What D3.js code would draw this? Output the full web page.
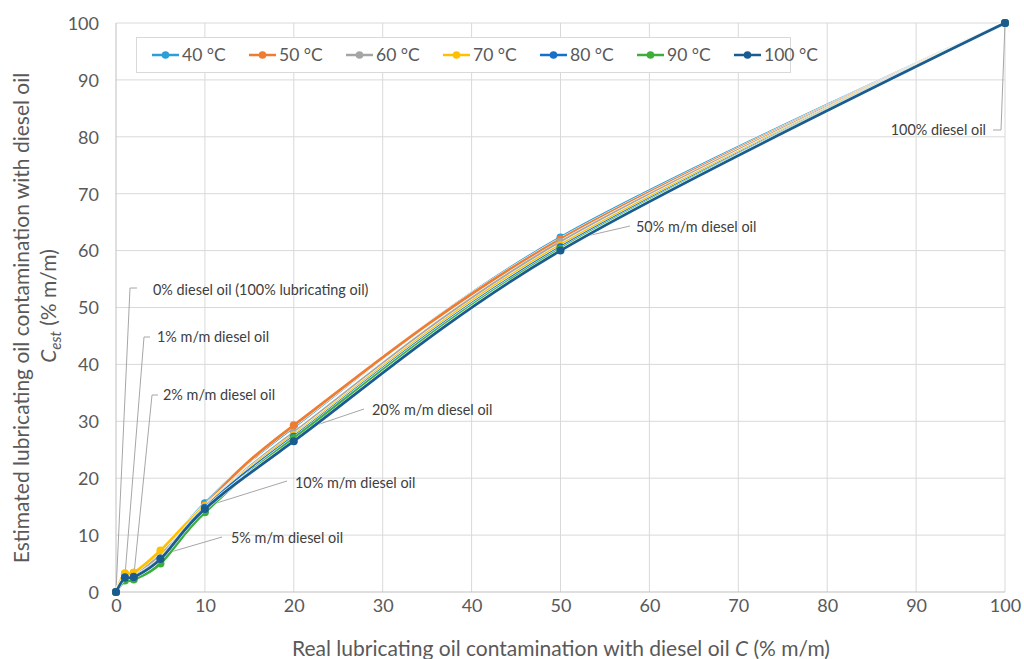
<!DOCTYPE html>
<html><head><meta charset="utf-8">
<script src="https://cdn.jsdelivr.net/npm/d3@7"></script>
<style>
body{margin:0;background:#fff;}
svg{display:block;font-family:Lato,"Open Sans",sans-serif;}
</style></head><body>
<svg id="c" width="1024" height="659"></svg>
<script>
const xValues = [0, 1, 2, 5, 10, 20, 50, 100];
const seriesNames = ["40 °C", "50 °C", "60 °C", "70 °C", "80 °C", "90 °C", "100 °C"];
const t40  = [0, 2.6, 2.9, 6.4, 15.6, 29.0, 62.3, 100];
const t50  = [0, 3.2, 3.4, 6.9, 15.3, 29.3, 62.0, 100];
const t60  = [0, 2.9, 3.1, 6.5, 15.0, 28.0, 61.5, 100];
const t70  = [0, 3.3, 3.4, 7.3, 15.1, 27.6, 61.0, 100];
const t80  = [0, 2.6, 2.7, 5.9, 14.8, 27.3, 60.6, 100];
const t90  = [0, 2.0, 2.2, 5.0, 14.0, 27.0, 60.3, 100];
const t100 = [0, 2.5, 2.6, 5.8, 14.6, 26.5, 60.0, 100];
const seriesValues = [t40, t50, t60, t70, t80, t90, t100];
const colors = ["#2a9fd8", "#ee7d31", "#a5a5a5", "#ffc000", "#1470c8", "#3cae3c", "#1b5c90"];
const xTicks = [0,10,20,30,40,50,60,70,80,90,100];
const yTicks = [0,10,20,30,40,50,60,70,80,90,100];
const annotations = [
  {x:0,   label:"0% diesel oil (100% lubricating oil)"},
  {x:1,   label:"1% m/m diesel oil"},
  {x:2,   label:"2% m/m diesel oil"},
  {x:5,   label:"5% m/m diesel oil"},
  {x:10,  label:"10% m/m diesel oil"},
  {x:20,  label:"20% m/m diesel oil"},
  {x:50,  label:"50% m/m diesel oil"},
  {x:100, label:"100% diesel oil"}
];

const svg = d3.select("#c");
const x = d3.scaleLinear().domain([0,100]).range([116,1005]);
const y = d3.scaleLinear().domain([0,100]).range([592,23]);
const textCol = "#595959";

// grid
const g = svg.append("g");
g.selectAll(".vg").data(xTicks.slice(1)).enter().append("line")
  .attr("x1",d=>x(d)).attr("x2",d=>x(d)).attr("y1",y(0)).attr("y2",y(100))
  .attr("stroke","#d9d9d9").attr("stroke-width",1);
g.selectAll(".hg").data(yTicks.slice(1)).enter().append("line")
  .attr("x1",x(0)).attr("x2",x(100)).attr("y1",d=>y(d)).attr("y2",d=>y(d))
  .attr("stroke","#d9d9d9").attr("stroke-width",1);
svg.append("line").attr("x1",x(0)).attr("x2",x(100)).attr("y1",y(0)).attr("y2",y(0)).attr("stroke","#bfbfbf");
svg.append("line").attr("x1",x(0)).attr("x2",x(0)).attr("y1",y(0)).attr("y2",y(100)).attr("stroke","#bfbfbf");

// axes via d3
const xAxis = d3.axisBottom(x).tickValues(xTicks).tickSize(0).tickPadding(5);
const yAxis = d3.axisLeft(y).tickValues(yTicks).tickSize(0).tickPadding(17);
const gx = svg.append("g").attr("transform",`translate(0,${y(0)})`).call(xAxis);
const gy = svg.append("g").attr("transform",`translate(${x(0)},0)`).call(yAxis);
[gx,gy].forEach(a=>{a.select(".domain").remove();
  a.selectAll("text").attr("fill",textCol).style("font-size","18px").style("font-family","Lato,'Open Sans',sans-serif");});
gx.selectAll("text").attr("dy","0.85em");
gy.selectAll("text").attr("dy","0.35em");

// axis titles
const xt = svg.append("text").attr("x",561).attr("y",656).attr("text-anchor","middle")
  .attr("fill",textCol).style("font-size","21px");
xt.append("tspan").text("Real lubricating oil contamination with diesel oil ");
xt.append("tspan").attr("font-style","italic").style("font-style","italic").text("C");
xt.append("tspan").text(" (% m/m)");
svg.append("text").attr("transform","rotate(-90)").attr("text-anchor","middle").attr("fill",textCol).style("font-size","21px")
  .attr("x",-318).attr("y",29).text("Estimated lubricating oil contamination with diesel oil");
const l2 = svg.append("text").attr("transform","rotate(-90)").attr("text-anchor","middle").attr("fill",textCol).style("font-size","21px")
  .attr("x",-306).attr("y",56);
l2.append("tspan").style("font-style","italic").text("C");
l2.append("tspan").style("font-style","italic").attr("font-size","15px").attr("dy","5").text("est");
l2.append("tspan").attr("dy","-5").text(" (% m/m)");

// annotations (leader lines + labels)
const annoPos = [
  {pts:[[x(0),y(0)],[130,288],[137,288]], tx:153, ty:290, anchor:"start"},
  {pts:[[x(1),y(2.6)],[144,337],[150,337]], tx:157, ty:337, anchor:"start"},
  {pts:[[x(2),y(2.7)],[152,395],[158,395]], tx:163, ty:395, anchor:"start"},
  {pts:[[x(5),y(6.5)],[222,537]], tx:231, ty:538, anchor:"start"},
  {pts:[[x(10),y(15)],[287,481]], tx:295, ty:483, anchor:"start"},
  {pts:[[x(20),y(28)],[364,409]], tx:372, ty:410, anchor:"start"},
  {pts:[[x(50),y(61.5)],[630,226]], tx:636, ty:227, anchor:"start"},
  {pts:[[x(100),y(100)],[1001,130],[993,130]], tx:986, ty:130, anchor:"end"}
];
const ann = svg.append("g");
annotations.forEach((a,i)=>{
  const p = annoPos[i];
  ann.append("path").attr("d",d3.line()(p.pts)).attr("fill","none").attr("stroke","#a6a6a6").attr("stroke-width",1);
  ann.append("text").attr("x",p.tx).attr("y",p.ty).attr("dy","0.35em").attr("text-anchor",p.anchor)
    .attr("fill","#404040").style("font-size","14.4px").text(a.label);
});

// series
const line = d3.line().x(d=>x(d[0])).y(d=>y(d[1])).curve(d3.curveCatmullRom.alpha(0));
const sg = svg.append("g");
seriesValues.forEach((vals,i)=>{
  const pts = xValues.map((xv,j)=>[xv,vals[j]]);
  sg.append("path").attr("d",line(pts)).attr("fill","none").attr("stroke","#fff").attr("stroke-width",3.8);
  sg.append("path").attr("d",line(pts)).attr("fill","none").attr("stroke",colors[i]).attr("stroke-width",2.8);
  sg.selectAll(null).data(pts).enter().append("circle")
    .attr("cx",d=>x(d[0])).attr("cy",d=>y(d[1])).attr("r",4).attr("fill",colors[i]);
});

// legend
const lg = svg.append("g");
lg.append("rect").attr("x",136.5).attr("y",37.5).attr("width",654).attr("height",35)
  .attr("fill","#fff").attr("stroke","#d9d9d9");
seriesNames.forEach((n,i)=>{
  const lx = 152 + i*97, ly = 55;
  lg.append("line").attr("x1",lx).attr("x2",lx+27).attr("y1",ly).attr("y2",ly).attr("stroke",colors[i]).attr("stroke-width",2.5);
  lg.append("circle").attr("cx",lx+13.5).attr("cy",ly).attr("r",3.8).attr("fill",colors[i]);
  lg.append("text").attr("x",lx+30).attr("y",ly).attr("dy","0.35em").attr("fill",textCol).style("font-size","17.5px").text(n);
});
</script>
</body></html>
